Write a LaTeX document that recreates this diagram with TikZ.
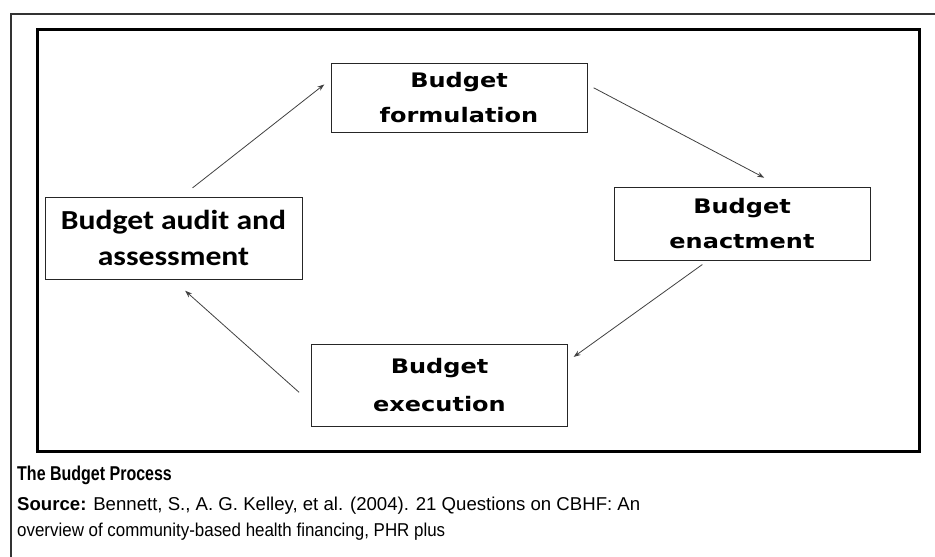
\documentclass[tikz,border=0pt]{standalone}
\usepackage{fontspec}
\usetikzlibrary{arrows.meta,positioning}

\newfontfamily\stagefont[FakeStretch=1.2]{DejaVu Sans}
\newfontfamily\auditfont[FakeStretch=1.15]{Carlito}
\newfontfamily\capfont{Liberation Sans}
\newfontfamily\titlefont[FakeStretch=0.8]{Liberation Sans}

\begin{document}
\begin{tikzpicture}[x=1pt,y=-1pt,>={Stealth[length=7pt,width=5pt]},
                    flow/.style={->,draw=black!75,line width=0.8pt}]

  \tikzstyle{stage}=[rectangle,draw=black!85,line width=0.9pt,align=center,
                     inner sep=0pt,minimum width=256pt,
                     font=\stagefont\bfseries\fontsize{20}{35}\selectfont]

  \useasboundingbox (0,0) rectangle (935,557);

  % frames
  \draw[black!80,line width=1.6pt] (935,14) -- (11,14) -- (11,557);
  \draw[line width=3pt] (37,29) rectangle (919,451);

  % stages of the cycle
  \node[stage,minimum height=69pt] (form) at (459,97.5) {Budget\\formulation};
  \node[stage,minimum height=73pt] (enact) at (742,223.5) {Budget\\enactment};
  \node[stage,minimum height=82pt,font=\stagefont\bfseries\fontsize{20}{38}\selectfont]
        (exec) at (439.5,385) {Budget\\execution};
  \node[stage,minimum height=82pt,minimum width=257pt,
        font=\auditfont\bfseries\fontsize{27.5}{36}\selectfont]
        (audit) at (173.5,238) {Budget audit and\\assessment};

  \path
  ([xshift=8pt]audit.north) edge[flow,shorten <=14pt,shorten >=8pt] ([yshift=18pt]form.west)
  ([yshift=13pt]form.east) edge[flow,shorten <=7pt,shorten >=19pt] ([xshift=39pt]enact.north)
  ([xshift=-34pt]enact.south) edge[flow,shorten <=7pt,shorten >=7pt] ([yshift=24pt]exec.east)
  ([yshift=-18pt]exec.west) edge[flow,shorten <=16pt,shorten >=17pt] ([xshift=-1pt]audit.south)
  ;

  % caption
  \node[anchor=base west,inner sep=0pt,font=\titlefont\bfseries\fontsize{20}{22}\selectfont]
        (title) at (17,480) {The Budget Process};
  \node[anchor=base west,inner sep=0pt,font=\capfont\fontsize{18.6}{21}\selectfont]
        (src) at (17,510) {\textbf{Source:} Bennett, S., A. G. Kelley, et al. (2004). 21 Questions on CBHF: An};
  \node[anchor=base west,inner sep=0pt,
        font=\capfont\addfontfeature{FakeStretch=0.91}\fontsize{18.6}{21}\selectfont]
        (src2) at (17,536) {overview of community-based health financing, PHR plus};

\end{tikzpicture}
\end{document}
